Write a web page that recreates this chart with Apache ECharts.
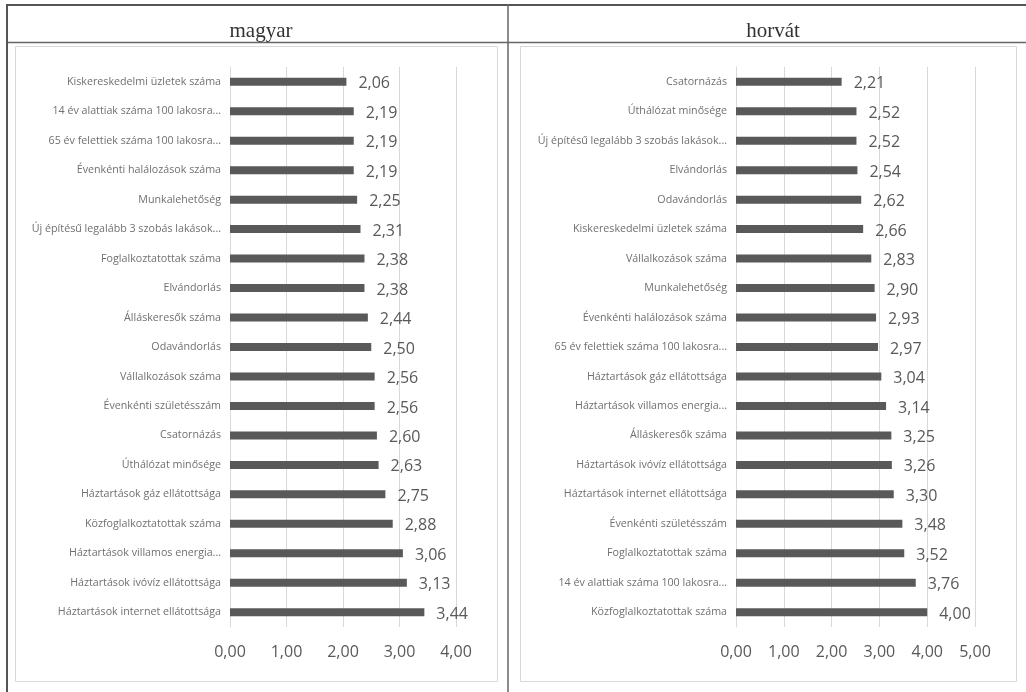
<!DOCTYPE html>
<html>
<head>
<meta charset="utf-8">
<script src="https://cdn.jsdelivr.net/npm/echarts@6/dist/echarts.min.js"></script>
<style>html,body{margin:0;padding:0;background:#fff}#c{width:1026px;height:692px}</style>
</head>
<body>
<div id="c"></div>
<script>
const titleLeft = 'magyar';
const titleRight = 'horvát';

const catsLeft = [
  'Kiskereskedelmi üzletek száma',
  '14 év alattiak száma 100 lakosra...',
  '65 év felettiek száma 100 lakosra...',
  'Évenkénti halálozások száma',
  'Munkalehetőség',
  'Új építésű legalább 3 szobás lakások...',
  'Foglalkoztatottak száma',
  'Elvándorlás',
  'Álláskeresők száma',
  'Odavándorlás',
  'Vállalkozások száma',
  'Évenkénti születésszám',
  'Csatornázás',
  'Úthálózat minősége',
  'Háztartások gáz ellátottsága',
  'Közfoglalkoztatottak száma',
  'Háztartások villamos energia...',
  'Háztartások ivóvíz ellátottsága',
  'Háztartások internet ellátottsága'
];
const valsLeft = [2.06, 2.19, 2.19, 2.19, 2.25, 2.31, 2.38, 2.38, 2.44, 2.50, 2.56, 2.56, 2.60, 2.63, 2.75, 2.88, 3.06, 3.13, 3.44];

const catsRight = [
  'Csatornázás',
  'Úthálózat minősége',
  'Új építésű legalább 3 szobás lakások...',
  'Elvándorlás',
  'Odavándorlás',
  'Kiskereskedelmi üzletek száma',
  'Vállalkozások száma',
  'Munkalehetőség',
  'Évenkénti halálozások száma',
  '65 év felettiek száma 100 lakosra...',
  'Háztartások gáz ellátottsága',
  'Háztartások villamos energia...',
  'Álláskeresők száma',
  'Háztartások ivóvíz ellátottsága',
  'Háztartások internet ellátottsága',
  'Évenkénti születésszám',
  'Foglalkoztatottak száma',
  '14 év alattiak száma 100 lakosra...',
  'Közfoglalkoztatottak száma'
];
const valsRight = [2.21, 2.52, 2.52, 2.54, 2.62, 2.66, 2.83, 2.90, 2.93, 2.97, 3.04, 3.14, 3.25, 3.26, 3.30, 3.48, 3.52, 3.76, 4.00];

const maxLeft = 4;
const maxRight = 5;

const fmt = v => Number(v).toFixed(2).replace('.', ',');
const font = '"Open Sans", sans-serif';

function xAxis(gi, max) {
  return {
    type: 'value', gridIndex: gi, min: 0, max: max, interval: 1,
    axisLine: {show: false}, axisTick: {show: false},
    splitLine: {lineStyle: {color: '#d9d9d9', width: 1}},
    axisLabel: {formatter: fmt, color: '#595959', fontSize: 16, fontFamily: font, margin: 17}
  };
}
function yAxis(gi, cats) {
  return {
    type: 'category', gridIndex: gi, data: cats, inverse: true,
    axisLine: {show: true, lineStyle: {color: '#d9d9d9', width: 1}},
    axisTick: {show: false},
    axisLabel: {color: '#707070', fontSize: 10.7, fontFamily: font, margin: 9}
  };
}
function series(i, vals) {
  return {
    type: 'bar', xAxisIndex: i, yAxisIndex: i, data: vals, barWidth: 8,
    itemStyle: {color: '#595959'},
    label: {show: true, position: 'right', distance: 12, formatter: p => fmt(p.value),
      color: '#595959', fontSize: 16, fontFamily: font, offset: [0, 2]},
    silent: true
  };
}

const chart = echarts.init(document.getElementById('c'), null, {renderer: 'canvas'});
chart.setOption({
  backgroundColor: '#ffffff',
  animation: false,
  title: [
    {text: titleLeft, left: 256, top: 16, textAlign: 'center',
      textStyle: {fontFamily: '"Liberation Serif", serif', fontSize: 21, fontWeight: 'normal', color: '#333'}},
    {text: titleRight, left: 768, top: 16, textAlign: 'center',
      textStyle: {fontFamily: '"Liberation Serif", serif', fontSize: 21, fontWeight: 'normal', color: '#333'}}
  ],
  grid: [
    {left: 230, top: 67, width: 226, height: 560, containLabel: false},
    {left: 736, top: 67, width: 239, height: 560, containLabel: false}
  ],
  xAxis: [xAxis(0, maxLeft), xAxis(1, maxRight)],
  yAxis: [yAxis(0, catsLeft), yAxis(1, catsRight)],
  series: [series(0, valsLeft), series(1, valsRight)],
  graphic: [
    {type: 'rect', shape: {x: 15.5, y: 46.5, width: 482, height: 635}, style: {fill: 'none', stroke: '#d9d9d9', lineWidth: 1}, z: -1},
    {type: 'rect', shape: {x: 520.5, y: 46.5, width: 496, height: 635}, style: {fill: 'none', stroke: '#d9d9d9', lineWidth: 1}, z: -1},
    {type: 'line', shape: {x1: 6, y1: 5, x2: 1026, y2: 5}, style: {stroke: '#555', lineWidth: 2}},
    {type: 'line', shape: {x1: 6, y1: 42.5, x2: 1026, y2: 42.5}, style: {stroke: '#666', lineWidth: 1.5}},
    {type: 'line', shape: {x1: 7, y1: 4, x2: 7, y2: 692}, style: {stroke: '#555', lineWidth: 2}},
    {type: 'line', shape: {x1: 508, y1: 4, x2: 508, y2: 692}, style: {stroke: '#666', lineWidth: 1.5}}
  ]
});
</script>
</body>
</html>
